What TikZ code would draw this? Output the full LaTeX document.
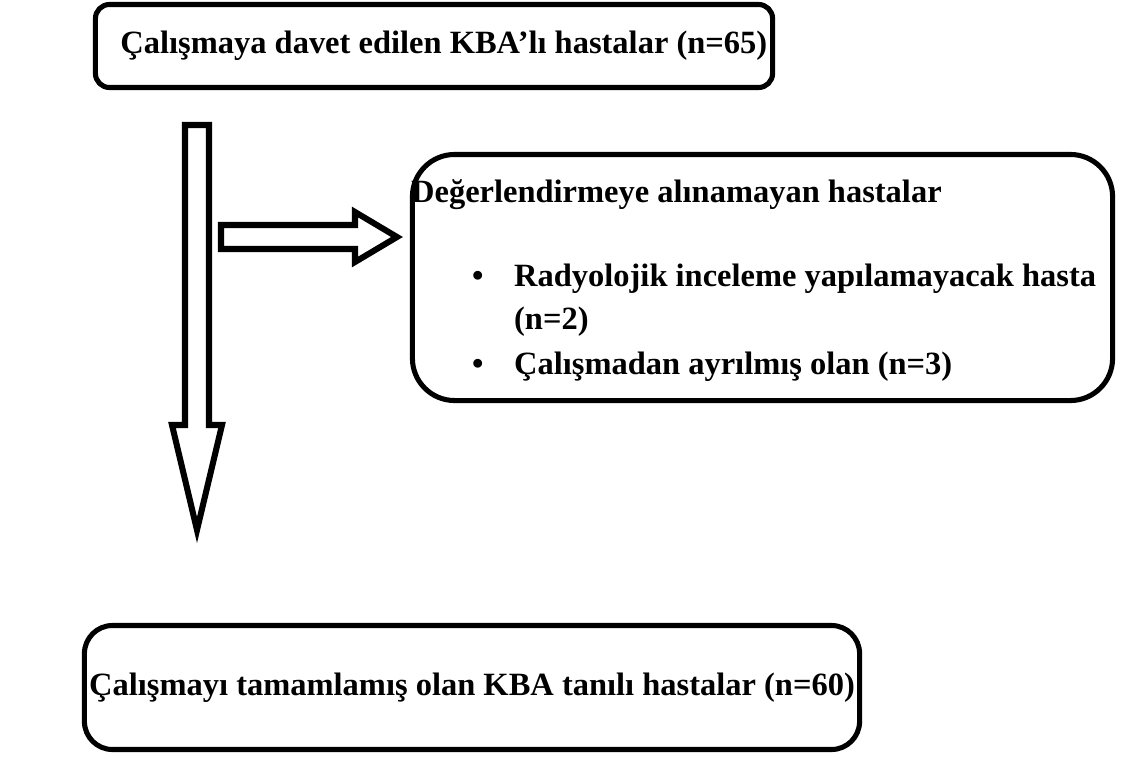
\documentclass[tikz,border=0pt]{standalone}
\usepackage{fontspec}
\setmainfont{Liberation Serif}
\usetikzlibrary{calc}

\begin{document}
\begin{tikzpicture}[
  x=0.025cm, y=-0.025cm,
  font=\fontsize{23.1}{29}\selectfont\bfseries,
  stage/.style={
    draw,
    line width=3.6pt,
    inner sep=0pt
  },
  entry/.style={
    anchor=base west,
    inner sep=0pt
  },
  fat/.style={
    draw,
    fill=white,
    line width=4.3pt,
    line join=miter
  }
]

  \useasboundingbox (0,0) rectangle (1132,758);

  % Patient flow boxes, top to bottom.
  \node[stage, rounded corners=10, minimum width=16.925cm, minimum height=2.075cm]
    (invited) at (434,46) {\hspace*{14pt}Çalışmaya davet edilen KBA’lı hastalar (n=65)};
  \node[stage, rounded corners=30, minimum width=17.5cm, minimum height=6.15cm]
    (excluded) at (762.5,277.5) {};
  \node[stage, rounded corners=20, minimum width=19.375cm, minimum height=3.1cm]
    (completed) at (472,687.5) {Çalışmayı tamamlamış olan KBA tanılı hastalar (n=60)};

  % Text of the exclusion box.
  \node[entry] (exctitle) at ($(excluded.north west)+(1,50.5)$) {Değerlendirmeye alınamayan hastalar};
  \node[entry] (bulleta)  at ($(excluded.north west)+(62,134.5)$) {•};
  \node[entry] (itema)    at ($(excluded.north west)+(104,134.5)$) {Radyolojik inceleme yapılamayacak hasta};
  \node[entry] (itemaa)   at ($(excluded.north west)+(104,177.5)$) {(n=2)};
  \node[entry] (bulletb)  at ($(excluded.north west)+(62,222.5)$) {•};
  \node[entry] (itemb)    at ($(excluded.north west)+(104,222.5)$) {Çalışmadan ayrılmış olan (n=3)};

  % Block arrows.
  \coordinate (down) at (197,125);
  \coordinate (side) at (221,237);

  \draw[fat] ($(down)+(-12,0)$) -- ($(down)+(12,0)$) -- ($(down)+(12,300)$)
    -- ($(down)+(25,300)$) -- ($(down)+(0,405)$) -- ($(down)+(-25,300)$)
    -- ($(down)+(-12,300)$) -- cycle;

  \draw[fat] ($(side)+(0,-12)$) -- ($(side)+(134,-12)$) -- ($(side)+(134,-25)$)
    -- ($(side)+(176,0)$) -- ($(side)+(134,25)$) -- ($(side)+(134,12)$)
    -- ($(side)+(0,12)$) -- cycle;

\end{tikzpicture}
\end{document}
